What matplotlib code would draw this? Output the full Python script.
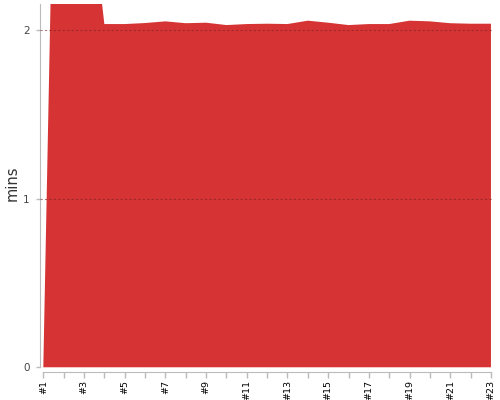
import matplotlib
matplotlib.use("Agg")
import matplotlib.pyplot as plt
import numpy as np

# Data
runs = list(range(1, 24))
tick_labels = ["#%d" % i if i % 2 == 1 else "" for i in runs]
mins = [0.0, 6.1, 3.1, 2.037, 2.037, 2.043, 2.053, 2.042, 2.045, 2.031,
        2.037, 2.039, 2.037, 2.057, 2.045, 2.031, 2.037, 2.037, 2.057,
        2.053, 2.042, 2.039, 2.039]
y_ticks = [0, 1, 2]

W, H = 500, 400
fig = plt.figure(figsize=(W / 100, H / 100), dpi=100)
ax = fig.add_axes([39.5 / W, (H - 372) / H, 453.5 / W, 368 / H])

ax.fill_between(runs, 0, mins, color="#d63434", linewidth=0, zorder=2)

ax.set_xlim(0.813, 23.1)
ax.set_ylim(-0.028, 2.156)

ax.set_xticks(runs)
ax.set_xticklabels(tick_labels, rotation=90, fontsize=6.8, color="#000000")
ax.set_yticks(y_ticks)
ax.set_yticklabels([str(t) for t in y_ticks], fontsize=7.5, color="#444444")

ax.tick_params(axis="x", length=4, width=1, color="#bbbbbb", pad=2)
ax.tick_params(axis="y", length=3, width=1, color="#bbbbbb", pad=4)

for s in ["top", "right"]:
    ax.spines[s].set_visible(False)
ax.spines["left"].set_color("#bbbbbb")
ax.spines["bottom"].set_color("#bbbbbb")
ax.spines["left"].set_bounds(0, 2.156)
ax.spines["bottom"].set_bounds(1, 23)

for yv in [1, 2]:
    ax.axhline(yv, color="#7a2020", alpha=0.6, linewidth=0.8,
               linestyle=(0, (2, 2)), zorder=3)

ax.set_ylabel("mins", fontsize=10.5, color="#333333")
ax.yaxis.set_label_coords(-0.044, 0.512)

fig.savefig("out.png", dpi=100)
